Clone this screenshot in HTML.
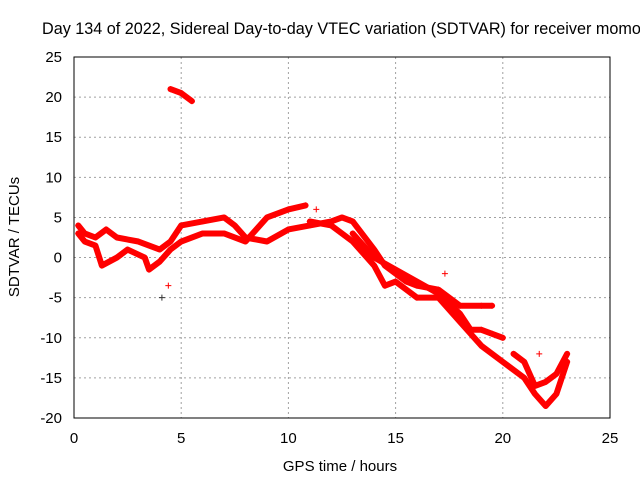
<!DOCTYPE html>
<html><head><meta charset="utf-8"><style>
body{margin:0;background:#fff;overflow:hidden;}
svg{display:block;font-family:"Liberation Sans",sans-serif;font-size:15px;}
</style></head><body>
<svg id="chart" width="640" height="480">
<text x="42" y="34" style="font-size:16.2px">Day 134 of 2022, Sidereal Day-to-day VTEC variation (SDTVAR) for receiver momo</text>
<g id="grid"></g><g id="axes"></g><g id="series"></g>
<rect x="74" y="57" width="536" height="361" fill="none" stroke="#000"/>
<text x="340" y="471" text-anchor="middle">GPS time / hours</text>
<text transform="translate(19,237) rotate(-90)" text-anchor="middle">SDTVAR / TECUs</text>
</svg>
<script>
const xTicks=[0,5,10,15,20,25];
const yTicks=[25,20,15,10,5,0,-5,-10,-15,-20];
const trackA=[[0.2,4],[0.5,3],[1,2.5],[1.5,3.5],[2,2.5],[3,2],[3.5,1.5],[4,1],[4.5,2],[5,4],[6,4.5],[7,5],[7.5,4],[8,2.5],[9,2],[10,3.5],[11,4],[12,4.5],[12.5,5],[13,4.5],[14,1],[14.5,-1],[15,-2],[15.5,-3],[16,-3.5],[17,-4],[18,-6],[19,-6],[19.5,-6]];
const trackB=[[0.2,3],[0.5,2],[1,1.5],[1.3,-1],[2,0],[2.5,1],[3.3,0],[3.5,-1.5],[4,-0.5],[4.5,1],[5,2],[6,3],[7,3],[8,2],[9,5],[10,6],[10.8,6.5]];
const trackC=[[11,4.5],[12,4],[13,2],[14,-1],[14.5,-3.5],[15,-3],[15.5,-4],[16,-5],[17,-5],[18,-8],[19,-11],[20,-13],[21,-15],[21.5,-17],[22,-18.5],[22.5,-17],[23,-13]];
const trackD=[[13,3],[14,0],[15,-1.5],[16,-3],[17,-4.5],[18,-7],[18.5,-9],[19,-9],[19.5,-9.5],[20,-10]];
const trackE=[[20.5,-12],[21,-13],[21.5,-16],[22,-15.5],[22.5,-14.5],[23,-12]];
const trackF=[[4.5,21],[5,20.5],[5.5,19.5]];
const outliers=[[4.1,-5],[11.3,6],[17.3,-2],[21.7,-12],[4.4,-3.5]];
const NS="http://www.w3.org/2000/svg";
const X=v=>74+v*536/25, Y=v=>418-(v+20)*361/45;
const grid=document.getElementById('grid'),axes=document.getElementById('axes'),ser=document.getElementById('series');
function mk(t,a,p){const e=document.createElementNS(NS,t);for(const k in a)e.setAttribute(k,a[k]);p.appendChild(e);return e;}
xTicks.forEach(v=>{
 const g=mk('line',{x1:X(v),x2:X(v),y1:57,y2:418,stroke:'#a0a0a0','stroke-dasharray':'2,3'},grid);
 
 const t=mk('text',{x:X(v),y:443,'text-anchor':'middle'},axes);t.textContent=v;
 
});
yTicks.forEach(v=>{
 const g=mk('line',{x1:74,x2:610,y1:Y(v),y2:Y(v),stroke:'#a0a0a0','stroke-dasharray':'2,3'},grid);
 
 const t=mk('text',{x:62,y:Y(v)+5,'text-anchor':'end'},axes);t.textContent=v;
 
});
function plus(x,y,c,g){mk('path',{d:`M${X(x)-3},${Y(y)}h6M${X(x)},${Y(y)-3}v6`,stroke:c,'stroke-width':1},g);}
[trackA,trackB,trackC,trackD,trackE,trackF].forEach((tr,i)=>{
 const g=mk('g',{},ser);
 
 
 mk('polyline',{points:tr.map(p=>X(p[0])+','+Y(p[1])).join(' '),fill:'none',stroke:'#f00','stroke-width':6,'stroke-linejoin':'round','stroke-linecap':'round'},g);
 tr.forEach(p=>plus(p[0],p[1],'#f00',g));
});
const og=mk('g',{},ser);


outliers.forEach((p,i)=>plus(p[0],p[1],i==0?'#333':'#f00',og));
</script>
</body></html>
